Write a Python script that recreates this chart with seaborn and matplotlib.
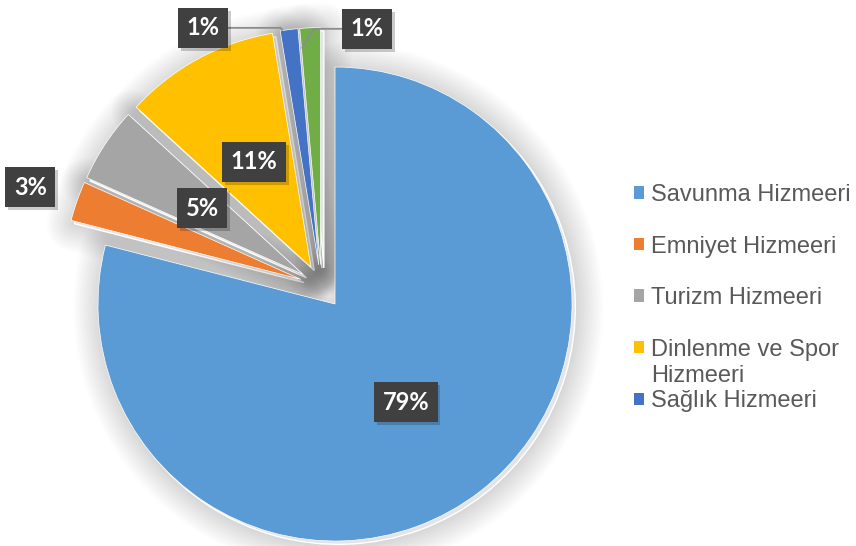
import numpy as np
import matplotlib
matplotlib.use('Agg')
import matplotlib.pyplot as plt
import matplotlib.patheffects as pe
from matplotlib.patches import Patch
import seaborn as sns

# veri (yuzde)
kategori = ['Savunma Hizmeeri', 'Emniyet Hizmeeri', 'Turizm Hizmeeri',
            'Dinlenme ve Spor Hizmeeri', 'Sağlık Hizmeeri', 'Diğer']
pay = [79.0, 2.7, 5.1, 10.6, 1.2, 1.4]
renk_kodlari = ['#5B9BD5', '#ED7D31', '#A5A5A5', '#FFC000', '#4472C4', '#70AD47']

sns.set_theme(style='white')
plt.rcParams['font.family'] = ['Liberation Sans', 'DejaVu Sans']
renkler = sns.color_palette(renk_kodlari)

W, H = 856, 546
fig = plt.figure(figsize=(W / 100, H / 100), dpi=100)
AX_W = 620
ax = fig.add_axes([0, 0, AX_W / W, 1])

R = 237.0            # yaricap (piksel)
CX, CY = 321.5, 286.6  # merkez (piksel, ustten)
patlama = [0.093] * len(pay)

# yumusak golge
golge, _ = ax.pie(pay, explode=patlama, startangle=90, counterclock=False,
                  colors=['#e4e4e4'] * len(pay), center=(0.014, -0.014))
katmanlar = [pe.Stroke(linewidth=lw, foreground='black', alpha=0.011,
                       joinstyle='round', capstyle='round')
             for lw in np.arange(40, 0, -3)]
for w in golge:
    w.set_zorder(0)
    w.set_clip_on(False)
    w.set_path_effects(katmanlar + [pe.Normal()])

dilimler, _, oranlar = ax.pie(pay, explode=patlama, startangle=90, counterclock=False,
                              colors=renkler, autopct='%.0f%%',
                              wedgeprops=dict(edgecolor='white', linewidth=0.5))

# etiket yerlesimi: merkezden uzaklik ve aci sapmasi
uzaklik = [0.51, 1.205, 0.51, 0.505, 1.112, 1.014]
aci_kayma = [-2.0, 0.5, 0.0, 0.0, 18.8, -13.7]

for i, (w, t) in enumerate(zip(dilimler, oranlar)):
    orta = np.deg2rad((w.theta1 + w.theta2) / 2 + aci_kayma[i])
    cx, cy = w.center
    x = cx + uzaklik[i] * np.cos(orta)
    y = cy + uzaklik[i] * np.sin(orta)
    t.set_position((x, y))
    t.set_fontfamily(['Lato', 'DejaVu Sans'])
    t.set_fontweight('bold')
    t.set_fontsize(17)
    t.set_color('white')
    t.set_zorder(5)
    t.set_bbox(dict(boxstyle='square,pad=0.36', fc='#404040', ec='none'))
    t.get_bbox_patch().set_path_effects([
        pe.SimplePatchShadow(offset=(2, -2), alpha=0.22), pe.Normal()])

# 1% etiketleri icin kilavuz cizgiler
def kilavuz(i, aci, r, dirsek_px):
    w = dilimler[i]
    cx, cy = w.center
    a = np.deg2rad(aci)
    px, py = cx + r * np.cos(a), cy + r * np.sin(a)
    lx, ly = oranlar[i].get_position()
    ax.plot([lx, px + dirsek_px / R, px], [ly, ly, py],
            color='#8c8c8c', lw=1.3, zorder=3, solid_capstyle='butt')

kilavuz(4, dilimler[4].theta2 - 0.6, 1.0, -2)
kilavuz(5, dilimler[5].theta2 - 0.1, 0.915, 12)

ax.set_xlim(-CX / R, (AX_W - CX) / R)
ax.set_ylim(-(H - CY) / R, CY / R)
ax.set_aspect('equal')
ax.axis('off')

# lejant
etiketler = list(kategori[:5])
ilk, ikinci = etiketler[3].rsplit(' ', 1)
etiketler[3] = ilk
tutamaclar = [Patch(facecolor=c, edgecolor='none') for c in renkler[:5]]
leg = fig.legend(tutamaclar, etiketler, loc='upper left',
                 bbox_to_anchor=(634 / W, 1 - 184 / H), frameon=False,
                 borderpad=0, borderaxespad=0, handlelength=0.42,
                 handleheight=0.42, handletextpad=0.3, labelspacing=1.25,
                 fontsize=17, labelcolor='#595959')

fig.canvas.draw()
bb = leg.get_texts()[3].get_window_extent()
fig.text(bb.x0 / W, (bb.y0 - 26) / H, ikinci, fontsize=17, color='#595959',
         va='bottom', ha='left')

fig.savefig('out.png', dpi=100)
